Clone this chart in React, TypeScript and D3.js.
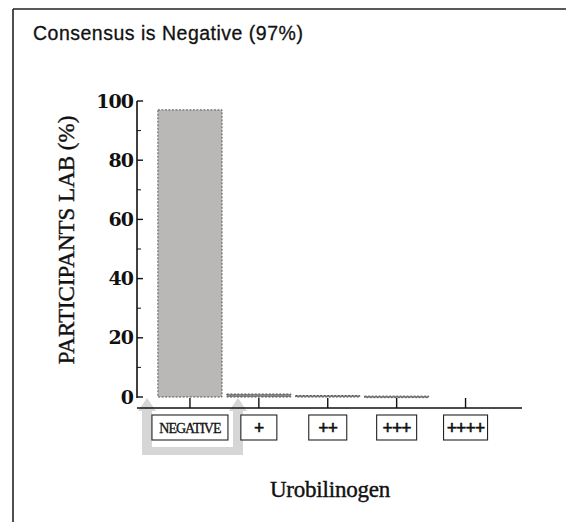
import React from "react";
import * as d3 from "d3";

const title = "Consensus is Negative (97%)";
const categories = ["NEGATIVE", "+", "++", "+++", "++++"];
const values = [97, 1.0, 0.5, 0.3, 0];
const yTicks = [0, 20, 40, 60, 80, 100];
const yMinorTicks = [10, 30, 50, 70, 90];
const yLabel = "PARTICIPANTS LAB (%)";
const xLabel = "Urobilinogen";

export default function App() {
  const W = 566, H = 522;
  const x = d3.scaleBand<string>().domain(categories).range([155.5, 500]).paddingInner(0.07).paddingOuter(0.035);
  const y = d3.scaleLinear().domain([0, 100]).range([397, 101]);
  const axisX = 137;
  const xAxisY = 408;
  const serif = "'Liberation Serif', 'Times New Roman', serif";
  const boxW = (c: string) => (c === "NEGATIVE" ? 76 : c.length === 1 ? 36 : c.length === 2 ? 38 : c.length === 3 ? 40 : 44);

  const lx = 147, rx = 238;
  const arrow = (cx: number) =>
    `M${cx},398 L${cx + 9},411 L${cx + 5},411 L${cx + 5},450 L${cx - 5},450 L${cx - 5},411 L${cx - 9},411 Z`;

  return (
    <svg width={W} height={H} style={{ position: "absolute", left: 0, top: 0, background: "#fff" }}>
      {/* frame */}
      <line x1={13} y1={9} x2={566} y2={9} stroke="#222" strokeWidth={1.6} />
      <line x1={13} y1={9} x2={13} y2={522} stroke="#222" strokeWidth={1.6} />

      <text x={33} y={40} fontFamily="'Liberation Sans', Arial, sans-serif" fontSize={19.5} letterSpacing={0.5} fill="#111" stroke="#111" strokeWidth={0.3}>{title}</text>

      {/* gray highlight annotation */}
      <g fill="#d2d2d2" opacity={0.9}>
        <path d={arrow(lx)} />
        <path d={arrow(rx)} />
        <rect x={lx - 5} y={447} width={rx - lx + 10} height={8} />
      </g>

      {/* bars */}
      {categories.map((c, i) =>
        values[i] > 0 ? (
          <rect key={c} x={x(c)} y={y(values[i])} width={x.bandwidth()} height={Math.max(1.5, y(0) - y(values[i]))}
            fill={i === 0 ? "#bab7b7" : "#888"} stroke="#555" strokeWidth={1} strokeDasharray="2,1.5" />
        ) : null
      )}

      {/* y axis */}
      <line x1={axisX} y1={y(100)} x2={axisX} y2={y(0) + 1} stroke="#111" strokeWidth={1.6} />
      {yTicks.map((t) => (
        <g key={t}>
          <line x1={axisX} x2={axisX + 6} y1={y(t)} y2={y(t)} stroke="#111" strokeWidth={1.4} />
          <text x={133} y={y(t)} dy="0.35em" textAnchor="end" fontFamily="'DejaVu Serif', serif" fontWeight="bold" fontSize={19} letterSpacing={-1} fill="#111">{t}</text>
        </g>
      ))}
      {yMinorTicks.map((t) => (
        <line key={t} x1={axisX} x2={axisX + 4} y1={y(t)} y2={y(t)} stroke="#111" strokeWidth={1} />
      ))}

      {/* x axis */}
      <line x1={axisX} x2={522} y1={xAxisY} y2={xAxisY} stroke="#111" strokeWidth={1.6} />
      {categories.map((c) => {
        const cx = (x(c) as number) + x.bandwidth() / 2;
        const bw = boxW(c);
        const neg = c === "NEGATIVE";
        return (
          <g key={c}>
            <line x1={cx} x2={cx} y1={xAxisY} y2={398} stroke="#111" strokeWidth={1.4} />
            <rect x={cx - bw / 2} y={415} width={bw} height={25} fill="#fff" stroke="#222" strokeWidth={1.1} />
            <text x={cx} y={428} dy="0.35em" textAnchor="middle" fontFamily={serif}
              fontSize={neg ? 14 : 18} fontWeight={neg ? "normal" : "bold"}
              letterSpacing={neg ? -1 : -0.8} fill="#111" stroke="#111" strokeWidth={neg ? 0.3 : 0.6}>{c}</text>
          </g>
        );
      })}

      <text transform={`translate(74,240) rotate(-90)`} textAnchor="middle" fontFamily={serif} fontSize={23} fill="#111" stroke="#111" strokeWidth={0.4}>{yLabel}</text>
      <text x={330} y={497} textAnchor="middle" fontFamily={serif} fontSize={23} letterSpacing={-0.2} fill="#111" stroke="#111" strokeWidth={0.4}>{xLabel}</text>
    </svg>
  );
}
